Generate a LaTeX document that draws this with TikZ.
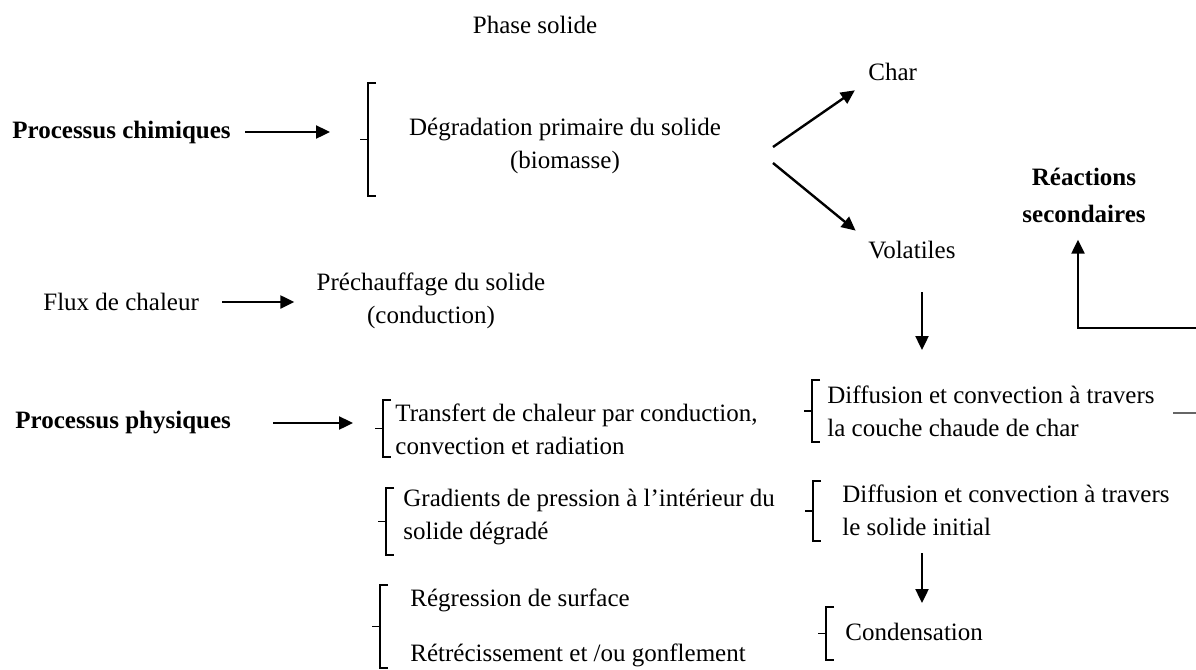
\documentclass[tikz,border=0pt]{standalone}
\usepackage{fontspec}
\setmainfont{Liberation Serif}
\usepackage{tikz}
\usetikzlibrary{arrows.meta,positioning,calc}
\tikzset{
  txt/.style={inner sep=0pt, font=\fontsize{12.5}{16.5}\selectfont, align=left},
  titre/.style={txt, font=\fontsize{12.5}{16.5}\selectfont\bfseries},
  fleche/.style={-{Triangle[length=7pt,width=6.5pt]}, line width=1.2pt},
  crochet/.pic={\draw[line width=0.6pt] (8,0) -- (0,0) -- (0,#1) -- (8,#1);
                \draw[line width=0.6pt] (0,#1/2) -- (-8,#1/2);},
}
\begin{document}
\begin{tikzpicture}[x=0.5pt,y=-0.5pt]
        \useasboundingbox (0,0) rectangle (1196,670);
        % phase solide
        \node[txt] (phase) at (535,25) {Phase solide};
        \node[titre, anchor=west] (chim) at (12,132) {Processus chimiques};
        \node[txt, align=center] (degrad) at (565,146) {Dégradation primaire du solide\\(biomasse)};
        \node[txt, anchor=west] (char) at (868,72) {Char};
        \node[txt, anchor=west] (volat) at (868,250) {Volatiles};
        \node[titre, align=center] (reac) at (1084,195) {Réactions\\[2pt]secondaires};
        \node[txt, anchor=west] (flux) at (43,302) {Flux de chaleur};
        \node[txt, align=center] (prech) at (431,301) {Préchauffage du solide\\(conduction)};
        % processus physiques
        \node[titre, anchor=west] (phys) at (15,423) {Processus physiques};
        \node[txt, anchor=west] (transf) at (395,429) {Transfert de chaleur par conduction,\\convection et radiation};
        \node[txt, anchor=west] (diff1) at (827,411) {Diffusion et convection à travers\\la couche chaude de char};
        \node[txt, anchor=west] (grad) at (403,517) {Gradients de pression à l’intérieur du\\solide dégradé};
        \node[txt, anchor=west] (diff2) at (842,510) {Diffusion et convection à travers\\le solide initial};
        \node[txt, anchor=west] (regr) at (410,600) {Régression de surface};
        \node[txt, anchor=west] (retr) at (410,655) {Rétrécissement et /ou gonflement};
        \node[txt, anchor=west] (cond) at (845,632) {Condensation};
        % accolades
        \pic at (368,83) {crochet=113};
        \pic at (383,400) {crochet=57};
        \pic at (812,380) {crochet=62};
        \pic at (386,488) {crochet=67};
        \pic at (813,481) {crochet=60};
        \pic at (380,585) {crochet=83};
        \pic at (826,607) {crochet=53};
        % fleches
        \coordinate (pChim) at (330,132);
        \coordinate (pPhys) at (353,423);
        \coordinate (bifC) at (773,147);
        \coordinate (bifV) at (773,163);
        \coordinate (vHaut) at (922,292);
        \coordinate (vBas) at (922,350);
        \coordinate (cHaut) at (922,553);
        \coordinate (cBas) at (922,603);
        \coordinate (bordR) at (1196,328);
        \coordinate (bordD) at (1196,413);
        \draw[fleche, shorten <=7pt] (chim.east) -- (pChim);
        \draw[fleche, shorten <=11.5pt, shorten >=11pt] (flux.east) -- (flux.east -| prech.west);
        \draw[fleche, shorten <=21pt] (phys.east) -- (pPhys);
        \draw[fleche, shorten >=8pt] (bifC) -- (char.south west);
        \draw[fleche, shorten >=8pt] (bifV) -- (volat.north west);
        \draw[fleche] (vHaut) -- (vBas);
        \draw[fleche] (cHaut) -- (cBas);
        \draw[fleche, shorten >=8.5pt] (bordR) -| ([xshift=-3pt]reac.south);
        \draw[gray!80!black, line width=0.7pt, shorten <=9pt] (diff1.east |- bordD) -- (bordD);
      \end{tikzpicture}
\end{document}
